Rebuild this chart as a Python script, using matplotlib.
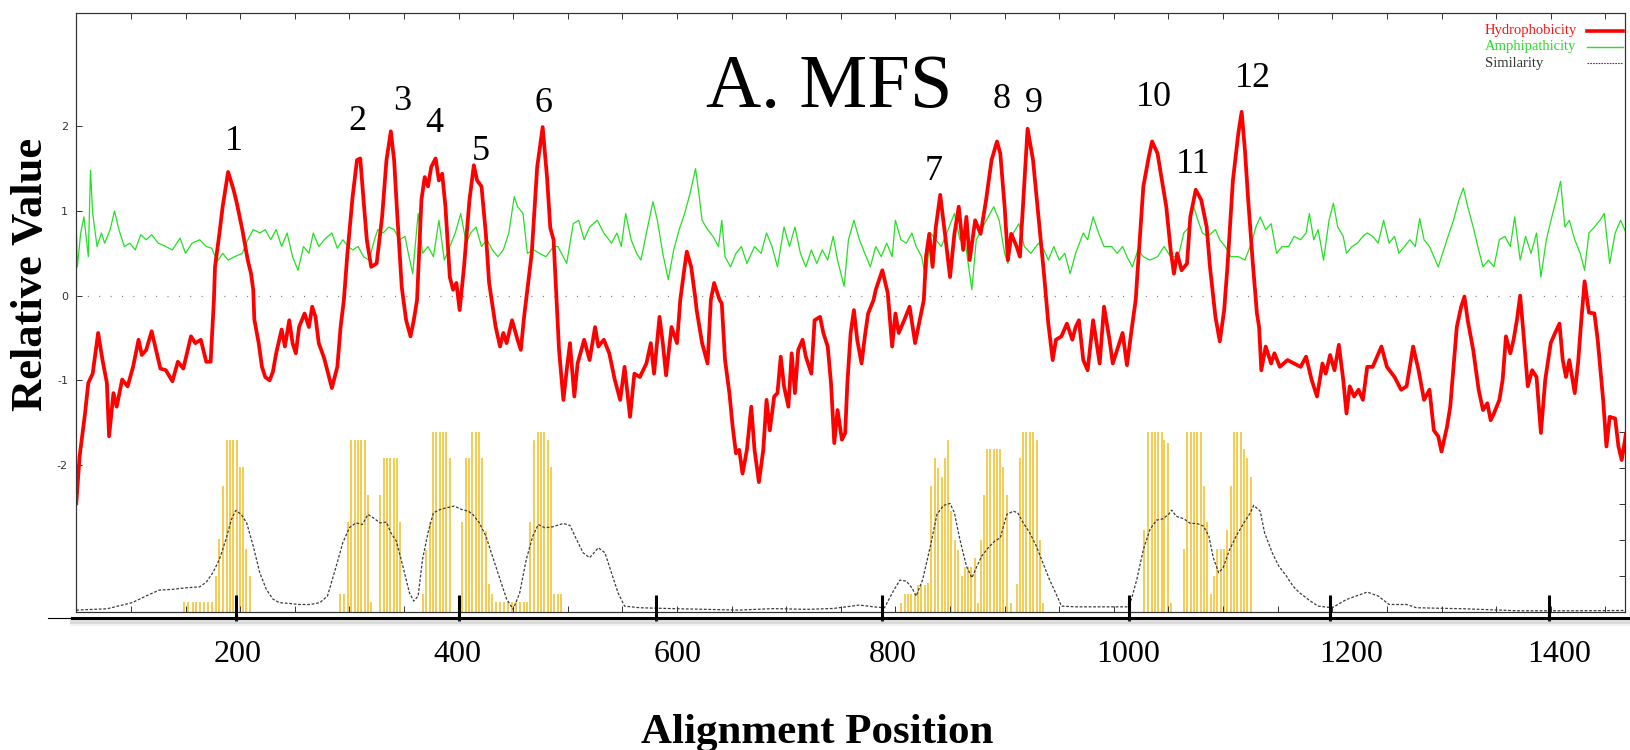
import numpy as np
import matplotlib
matplotlib.use("Agg")
import matplotlib.pyplot as plt
import matplotlib.transforms as mtransforms
from matplotlib.lines import Line2D

# ---- values (alignment position / relative value) ----
hydro_x = [50, 53, 58, 61, 65, 70, 74, 78, 80, 84, 87, 92, 97, 102, 107, 110, 114, 119, 123, 127,
           132, 138, 143, 148, 155, 159, 164, 169, 173, 176, 177, 181, 184, 189, 194, 197, 202, 207, 210, 212,
           213, 217, 220, 223, 227, 230, 233, 238, 241, 245, 248, 251, 254, 259, 263, 266, 269, 272, 277, 284,
           289, 292, 295, 298, 303, 307, 310, 313, 316, 320, 325, 330, 334, 338, 341, 344, 348, 352, 356, 359,
           362, 366, 369, 372, 375, 379, 382, 385, 388, 392, 395, 398, 401, 405, 410, 414, 417, 421, 425, 428,
           434, 438, 441, 444, 449, 454, 457, 460, 467, 472, 477, 481, 484, 487, 492, 496, 499, 502, 506, 509,
           515, 520, 525, 528, 533, 538, 543, 548, 552, 557, 561, 566, 572, 576, 579, 584, 587, 590, 595, 600,
           603, 607, 609, 613, 617, 618, 623, 628, 631, 634, 639, 641, 644, 648, 651, 654, 657, 660, 664, 668,
           671, 675, 679, 682, 685, 689, 692, 695, 698, 702, 705, 708, 711, 715, 718, 723, 726, 731, 734, 738,
           741, 744, 747, 751, 754, 756, 759, 762, 765, 769, 772, 775, 780, 782, 788, 793, 797, 800, 803, 808,
           813, 818, 821, 826, 828, 831, 834, 837, 841, 846, 850, 854, 858, 862, 865, 868, 873, 878, 883, 888,
           893, 896, 900, 903, 906, 911, 914, 918, 921, 926, 931, 936, 940, 944, 947, 952, 957, 962, 965, 968,
           972, 976, 981, 987, 991, 996, 999, 1004, 1008, 1012, 1017, 1020, 1022, 1027, 1032, 1035, 1040, 1043, 1048, 1052,
           1055, 1058, 1062, 1067, 1070, 1075, 1080, 1085, 1088, 1093, 1097, 1101, 1104, 1109, 1114, 1117, 1120, 1123, 1127, 1131,
           1133, 1135, 1139, 1144, 1147, 1152, 1159, 1165, 1171, 1176, 1181, 1186, 1191, 1194, 1198, 1202, 1206, 1210, 1213, 1216,
           1220, 1224, 1228, 1232, 1237, 1241, 1245, 1250, 1257, 1263, 1268, 1271, 1274, 1279, 1284, 1289, 1293, 1297, 1300, 1305,
           1308, 1311, 1314, 1318, 1321, 1324, 1329, 1334, 1338, 1342, 1345, 1348, 1353, 1356, 1359, 1363, 1366, 1369, 1372, 1375,
           1379, 1383, 1387, 1391, 1395, 1400, 1404, 1408, 1411, 1414, 1417, 1422, 1425, 1428, 1431, 1435, 1440, 1443, 1448, 1451,
           1454, 1459, 1462, 1465, 1469, 1470]
hydro_y = [-2.45, -1.90, -1.39, -1.03, -0.92, -0.44, -0.76, -1.03, -1.66, -1.15, -1.31, -0.99, -1.07, -0.84, -0.52, -0.70, -0.64, -0.42, -0.64, -0.86,
           -0.88, -1.01, -0.78, -0.86, -0.48, -0.56, -0.52, -0.78, -0.78, -0.05, 0.34, 0.73, 1.05, 1.46, 1.25, 1.09, 0.78, 0.42, 0.26, 0.07,
           -0.28, -0.56, -0.84, -0.96, -1.00, -0.90, -0.68, -0.40, -0.60, -0.29, -0.56, -0.68, -0.37, -0.21, -0.37, -0.13, -0.25, -0.56, -0.74, -1.09,
           -0.84, -0.37, -0.05, 0.46, 1.17, 1.60, 1.62, 1.13, 0.66, 0.34, 0.38, 0.93, 1.60, 1.94, 1.60, 0.93, 0.10, -0.29, -0.48, -0.29,
           -0.05, 1.13, 1.40, 1.29, 1.52, 1.62, 1.36, 1.44, 1.05, 0.22, 0.07, 0.15, -0.17, 0.34, 1.13, 1.54, 1.36, 1.29, 0.73, 0.15,
           -0.37, -0.60, -0.44, -0.56, -0.29, -0.52, -0.64, -0.25, 0.50, 1.52, 1.99, 1.40, 0.80, 0.66, -0.64, -1.23, -0.88, -0.56, -1.19, -0.80,
           -0.52, -0.76, -0.37, -0.60, -0.52, -0.68, -0.99, -1.23, -0.84, -1.43, -0.92, -0.96, -0.80, -0.56, -0.92, -0.25, -0.56, -0.94, -0.37, -0.56,
           -0.05, 0.34, 0.52, 0.34, -0.05, -0.17, -0.56, -0.80, -0.05, 0.15, -0.05, -0.09, -0.76, -1.15, -1.55, -1.86, -1.82, -2.10, -1.82, -1.31,
           -1.82, -2.20, -1.82, -1.23, -1.59, -1.19, -1.15, -0.72, -1.07, -1.31, -0.68, -1.15, -0.64, -0.52, -0.72, -0.92, -0.29, -0.25, -0.44, -0.60,
           -1.03, -1.74, -1.35, -1.70, -1.62, -1.03, -0.44, -0.17, -0.52, -0.80, -0.48, -0.21, -0.05, 0.07, 0.30, 0.03, -0.60, -0.21, -0.44, -0.29,
           -0.13, -0.56, -0.37, -0.05, 0.46, 0.73, 0.34, 0.81, 1.19, 0.66, 0.22, 0.73, 1.05, 0.54, 0.93, 0.42, 0.89, 0.73, 1.13, 1.60,
           1.82, 1.68, 1.05, 0.42, 0.73, 0.58, 0.46, 1.33, 1.97, 1.60, 0.93, 0.26, -0.33, -0.76, -0.52, -0.48, -0.33, -0.52, -0.37, -0.29,
           -0.76, -0.88, -0.29, -0.80, -0.13, -0.52, -0.80, -0.60, -0.44, -0.82, -0.33, -0.05, 0.34, 1.29, 1.64, 1.82, 1.68, 1.44, 1.05, 0.54,
           0.26, 0.50, 0.30, 0.38, 0.93, 1.25, 1.13, 0.81, 0.34, -0.25, -0.54, -0.17, 0.34, 1.36, 1.92, 2.17, 1.72, 1.13, 0.42, -0.21,
           -0.37, -0.88, -0.60, -0.80, -0.68, -0.84, -0.76, -0.80, -0.84, -0.72, -0.99, -1.19, -0.80, -0.92, -0.70, -0.88, -0.58, -0.99, -1.39, -1.07,
           -1.19, -1.11, -1.23, -0.84, -0.84, -0.72, -0.60, -0.84, -0.96, -1.11, -1.07, -0.84, -0.60, -0.88, -1.23, -1.11, -1.59, -1.66, -1.84, -1.55,
           -1.31, -0.84, -0.37, -0.13, -0.01, -0.29, -0.64, -1.11, -1.35, -1.27, -1.47, -1.39, -1.23, -0.99, -0.48, -0.68, -0.52, -0.29, 0.00, -0.44,
           -1.07, -0.88, -0.96, -1.62, -0.99, -0.56, -0.44, -0.33, -0.76, -0.96, -0.76, -1.15, -0.80, -0.29, 0.17, -0.20, -0.21, -0.52, -1.23, -1.78,
           -1.43, -1.45, -1.78, -1.94, -1.62, -1.98]

amphi_x = [50, 51, 54, 57, 61, 63, 65, 69, 73, 76, 81, 85, 89, 94, 99, 104, 109, 114, 119, 125,
           132, 138, 145, 150, 156, 163, 169, 174, 179, 184, 189, 195, 202, 207, 212, 218, 223, 228, 233, 238,
           243, 248, 253, 258, 263, 267, 272, 277, 284, 289, 294, 299, 303, 308, 313, 318, 323, 326, 331, 336,
           341, 346, 351, 354, 358, 363, 367, 372, 377, 382, 387, 392, 397, 402, 407, 411, 416, 421, 426, 431,
           436, 441, 446, 451, 454, 459, 463, 469, 474, 480, 487, 491, 499, 505, 510, 515, 520, 527, 533, 540,
           545, 549, 553, 558, 563, 567, 572, 578, 582, 587, 592, 597, 602, 607, 612, 617, 620, 623, 628, 633,
           638, 641, 644, 649, 654, 659, 664, 671, 677, 682, 687, 692, 698, 703, 708, 713, 718, 723, 728, 733,
           738, 743, 747, 753, 757, 762, 767, 772, 777, 782, 787, 792, 797, 800, 805, 810, 815, 819, 824, 828,
           832, 837, 842, 847, 854, 859, 864, 870, 874, 880, 885, 890, 895, 900, 903, 908, 913, 918, 924, 931,
           936, 940, 945, 950, 955, 960, 965, 972, 976, 981, 986, 991, 998, 1003, 1008, 1012, 1017, 1022, 1027, 1033,
           1040, 1046, 1052, 1059, 1064, 1069, 1072, 1077, 1081, 1086, 1093, 1097, 1102, 1107, 1114, 1120, 1126, 1130, 1134, 1139,
           1144, 1149, 1154, 1160, 1165, 1171, 1176, 1179, 1183, 1187, 1192, 1197, 1201, 1205, 1210, 1213, 1218, 1223, 1228, 1232,
           1237, 1242, 1247, 1252, 1257, 1261, 1266, 1271, 1276, 1280, 1284, 1289, 1293, 1297, 1302, 1306, 1311, 1316, 1320, 1324,
           1329, 1334, 1338, 1343, 1348, 1353, 1358, 1363, 1367, 1372, 1377, 1382, 1387, 1391, 1396, 1401, 1405, 1409, 1413, 1417,
           1422, 1427, 1431, 1435, 1440, 1445, 1449, 1454, 1459, 1464, 1469]
amphi_y = [0.81, 0.34, 0.74, 0.93, 0.46, 1.48, 0.97, 0.58, 0.74, 0.62, 0.78, 1.00, 0.78, 0.58, 0.62, 0.54, 0.72, 0.66, 0.72, 0.62,
           0.58, 0.54, 0.68, 0.50, 0.62, 0.66, 0.58, 0.56, 0.40, 0.50, 0.42, 0.46, 0.50, 0.66, 0.78, 0.74, 0.78, 0.66, 0.78, 0.58,
           0.74, 0.46, 0.30, 0.58, 0.50, 0.74, 0.58, 0.66, 0.74, 0.56, 0.66, 0.58, 0.54, 0.58, 0.46, 0.42, 0.66, 0.78, 0.74, 0.81,
           0.78, 0.66, 0.70, 0.50, 0.26, 0.97, 0.50, 0.58, 0.46, 0.89, 0.42, 0.58, 0.74, 0.97, 0.62, 0.74, 0.81, 0.58, 0.66, 0.54,
           0.46, 0.54, 0.74, 1.17, 1.05, 0.97, 0.50, 0.54, 0.50, 0.46, 0.58, 0.58, 0.38, 0.85, 0.89, 0.66, 0.81, 0.89, 0.74, 0.62,
           0.74, 0.58, 0.97, 0.66, 0.50, 0.42, 0.74, 1.11, 0.89, 0.50, 0.19, 0.54, 0.78, 0.97, 1.21, 1.50, 1.21, 0.89, 0.78, 0.70,
           0.58, 0.89, 0.46, 0.34, 0.50, 0.58, 0.38, 0.58, 0.50, 0.74, 0.58, 0.34, 0.81, 0.58, 0.81, 0.50, 0.34, 0.54, 0.38, 0.54,
           0.42, 0.70, 0.42, 0.11, 0.66, 0.89, 0.66, 0.50, 0.34, 0.58, 0.46, 0.62, 0.46, 0.89, 0.66, 0.62, 0.74, 0.58, 0.46, 0.19,
           0.74, 0.66, 0.58, 0.74, 0.97, 0.66, 0.62, 0.07, 0.66, 0.81, 0.93, 1.05, 0.89, 0.50, 0.38, 0.74, 0.85, 0.58, 0.50, 0.62,
           0.54, 0.42, 0.58, 0.42, 0.50, 0.26, 0.50, 0.74, 0.66, 0.93, 0.74, 0.58, 0.58, 0.50, 0.58, 0.46, 0.34, 0.54, 0.46, 0.42,
           0.46, 0.58, 0.46, 0.46, 0.74, 0.81, 1.09, 0.89, 0.74, 0.70, 0.78, 0.66, 0.58, 0.46, 0.46, 0.42, 0.62, 0.81, 0.93, 0.78,
           0.85, 0.50, 0.58, 0.58, 0.70, 0.66, 0.74, 0.97, 0.66, 0.78, 0.42, 0.89, 1.09, 0.81, 0.70, 0.50, 0.58, 0.62, 0.70, 0.74,
           0.70, 0.62, 0.89, 0.62, 0.70, 0.50, 0.58, 0.66, 0.58, 0.91, 0.66, 0.58, 0.46, 0.34, 0.54, 0.70, 0.89, 1.13, 1.27, 1.05,
           0.81, 0.54, 0.34, 0.42, 0.34, 0.66, 0.70, 0.58, 0.93, 0.42, 0.70, 0.50, 0.74, 0.22, 0.66, 0.93, 1.13, 1.35, 0.81, 0.89,
           0.66, 0.50, 0.30, 0.74, 0.81, 0.89, 0.97, 0.38, 0.74, 0.89, 0.74]

# similarity (right-hand scale, 0..1)
sim_x = [50, 78, 101, 108, 117, 126, 138, 151, 163, 169, 175, 181, 187, 192, 196, 201, 206, 212, 218, 224,
         230, 236, 245, 254, 264, 273, 280, 288, 294, 300, 306, 312, 317, 322, 328, 334, 338, 343, 349, 355,
         359, 363, 367, 372, 377, 383, 389, 396, 403, 409, 413, 419, 425, 432, 438, 444, 450, 456, 462, 468,
         473, 479, 486, 496, 502, 508, 514, 520, 528, 534, 540, 546, 552, 566, 596, 627, 657, 688, 719, 743,
         755, 767, 780, 790, 798, 804, 810, 815, 819, 825, 832, 838, 844, 850, 854, 859, 865, 870, 874, 879,
         885, 891, 896, 902, 908, 912, 917, 923, 929, 935, 941, 948, 952, 965, 985, 1012, 1016, 1021, 1027, 1033,
         1039, 1045, 1050, 1053, 1057, 1064, 1070, 1076, 1082, 1087, 1091, 1096, 1100, 1106, 1112, 1119, 1125, 1128, 1134, 1138,
         1145, 1151, 1158, 1164, 1170, 1180, 1187, 1200, 1213, 1226, 1232, 1242, 1252, 1268, 1277, 1322, 1370, 1419, 1470]
sim_y = [0.009, 0.016, 0.05, 0.07, 0.096, 0.12, 0.124, 0.133, 0.138, 0.164, 0.216, 0.29, 0.401, 0.512, 0.562, 0.54, 0.493, 0.364, 0.216, 0.124,
         0.07, 0.05, 0.046, 0.04, 0.04, 0.05, 0.087, 0.253, 0.383, 0.466, 0.493, 0.484, 0.54, 0.521, 0.493, 0.497, 0.438, 0.392, 0.253, 0.105,
         0.059, 0.087, 0.29, 0.438, 0.549, 0.567, 0.577, 0.586, 0.567, 0.558, 0.54, 0.493, 0.42, 0.29, 0.179, 0.07, 0.013, 0.105, 0.29, 0.42,
         0.484, 0.466, 0.471, 0.49, 0.479, 0.401, 0.327, 0.30, 0.355, 0.327, 0.216, 0.105, 0.031, 0.022, 0.017, 0.013, 0.009, 0.017, 0.013, 0.018,
         0.027, 0.037, 0.027, 0.022, 0.114, 0.175, 0.17, 0.133, 0.087, 0.179, 0.364, 0.54, 0.59, 0.601, 0.549, 0.401, 0.253, 0.188, 0.244, 0.309,
         0.355, 0.392, 0.41, 0.54, 0.558, 0.549, 0.493, 0.438, 0.364, 0.272, 0.179, 0.087, 0.031, 0.027, 0.027, 0.027, 0.068, 0.179, 0.345, 0.456,
         0.508, 0.516, 0.54, 0.564, 0.53, 0.516, 0.49, 0.49, 0.475, 0.42, 0.30, 0.216, 0.244, 0.345, 0.42, 0.493, 0.549, 0.59, 0.558, 0.438,
         0.327, 0.253, 0.198, 0.142, 0.105, 0.059, 0.031, 0.022, 0.068, 0.096, 0.109, 0.087, 0.04, 0.04, 0.022, 0.016, 0.005, 0.005, 0.007]

bar_x = [149, 152.7, 156.4, 159.7, 163.4, 167, 170.4, 174.1, 177.7, 181.1, 184.4, 187.8, 190.9, 193.9, 197, 200, 202.8, 205.5, 208.6,
         291.9, 295, 298.7, 301.7, 304.8, 307.8, 310.9, 313.9, 316.7, 319.4,
         328.3, 331.3, 334.4, 337.4, 340.5, 343.5, 346.6,
         367.4, 370.4, 373.5, 376.5, 379.6, 382.6, 385.7, 388.7, 391.8,
         403.4, 406.4, 409.5, 412.6, 415.6, 418.7, 421.7, 424.8, 427.8, 430.9, 433.9, 437.6, 441.3, 444.9, 448.6, 452.2, 455.9, 459.6, 462.9,
         465.7, 469.3, 472.4, 475.5, 478.5, 481.6, 484.6, 487.7, 490.7, 494,
         805.5, 808.6, 811.6, 814.7, 817.7, 820.8, 823.8, 826.9, 829.9, 833, 836, 839.1, 842.2, 845.2, 848.3, 851.3, 854.4, 857.4, 860.5,
         863.5, 866.6, 869.6, 872.7, 875.8,
         877.9, 880.9, 884, 887, 890.1, 893.2, 895.6, 898.7, 901.7, 905.4,
         910.9, 913.9, 917, 920, 923.1, 926.1, 929.2, 932.2, 935.3,
         1027.5, 1031.5, 1034.5, 1037.6, 1040.6, 1043.7, 1046.1, 1049.2, 1052,
         1064.2, 1067.2, 1070.3, 1073.3, 1076.4, 1079.4, 1082.5, 1085.5, 1088.6, 1091.6, 1094.7, 1097.8, 1100.8, 1103.9, 1106.9,
         1110, 1113, 1116.1, 1119.1, 1122.2, 1125.2]
bar_h = [0.053, 0.053, 0.053, 0.053, 0.053, 0.053, 0.053, 0.053, 0.198, 0.401, 0.70, 0.955, 0.955, 0.955, 0.955, 0.804, 0.804, 0.349, 0.198,
         0.10, 0.10, 0.497, 0.955, 0.955, 0.955, 0.955, 0.955, 0.65, 0.053,
         0.65, 0.855, 0.855, 0.855, 0.855, 0.855, 0.50,
         0.10, 0.345, 0.497, 1.0, 1.0, 1.0, 1.0, 1.0, 0.855,
         0.50, 0.855, 0.855, 1.0, 1.0, 1.0, 0.855, 0.447, 0.152, 0.10, 0.053, 0.053, 0.053, 0.053, 0.053, 0.053, 0.053, 0.053, 0.053,
         0.50, 0.955, 1.0, 1.0, 1.0, 0.955, 0.804, 0.10, 0.10, 0.10,
         0.05, 0.10, 0.10, 0.10, 0.10, 0.15, 0.15, 0.15, 0.16, 0.70, 0.855, 0.80, 0.75, 0.855, 0.955, 0.56, 0.40, 0.345, 0.20,
         0.25, 0.25, 0.25, 0.30, 0.05,
         0.40, 0.65, 0.904, 0.904, 0.904, 0.904, 0.904, 0.804, 0.65, 0.05,
         0.152, 0.855, 1.0, 1.0, 1.0, 1.0, 0.955, 0.40, 0.05,
         0.453, 1.0, 1.0, 1.0, 1.0, 1.0, 0.955, 0.935, 0.05,
         0.35, 1.0, 1.0, 1.0, 1.0, 1.0, 0.70, 0.497, 0.10, 0.20, 0.35, 0.35, 0.35, 0.453, 0.70,
         1.0, 1.0, 1.0, 0.904, 0.855, 0.75]

# helix numbers written over the peaks
tm_labels = ['1', '2', '3', '4', '5', '6', '7', '8', '9', '10', '11', '12']
tm_label_x = [194, 307, 348, 378, 420, 478, 835, 897, 927, 1037, 1073, 1127]
tm_label_y = [1.82, 2.05, 2.29, 2.03, 1.70, 2.27, 1.46, 2.31, 2.27, 2.34, 1.55, 2.56]

# hand-drawn position axis pasted under the plot
pos_labels = ['200', '400', '600', '800', '1000', '1200', '1400']
pos_tick_x = [196, 400, 581, 788, 1014, 1198, 1398]
pos_label_x = [198, 399, 601, 798, 1013, 1217, 1408]

W, H = 1630, 750
SERIF = ['Liberation Serif', 'DejaVu Serif']

fig = plt.figure(figsize=(W / 100, H / 100), dpi=100)
ax = fig.add_axes([76.3 / W, 1 - 611.7 / H, (1625 - 76.3) / W, 599 / H])
ax_sim = ax.twinx()
ax.set_zorder(ax_sim.get_zorder() + 1)
ax.patch.set_visible(False)

ax.set_xlim(50, 1468)
ax.set_ylim(-3.73, 3.34)
ax_sim.set_ylim(0, 3.325)

# similarity bars + curve (lower layer)
ax_sim.vlines(bar_x, 0, bar_h, color='#f5c232', lw=1.2)
ax_sim.plot(sim_x, sim_y, color='#3c3c3c', lw=0.9, dashes=(2.2, 1.4))

# zero line, amphipathicity, hydrophobicity
ax.axhline(0, color='#777777', lw=0.9, ls=(0, (0.8, 8.3)))
ax.plot(amphi_x, amphi_y, color='#22e022', lw=0.9)
ax.plot(hydro_x, hydro_y, color='#ff0000', lw=2.7)

for s, x, y in zip(tm_labels, tm_label_x, tm_label_y):
    ax.text(x, y, s, fontsize=26, family=SERIF, ha='center', va='center')

# frame and small gnuplot ticks
for a in (ax, ax_sim):
    for sp in a.spines.values():
        sp.set_color('#333333')
        sp.set_linewidth(0.8)
ax.set_yticks([-2, -1, 0, 1, 2])
ax.set_yticklabels(['-2', '-1', '0', '1', '2'])
ax.tick_params(axis='y', direction='in', length=4, width=0.7, colors='#333333',
               labelsize=8, pad=6, right=False)
ax.set_xticks(np.arange(100, 1451, 50))
ax.tick_params(axis='x', direction='in', length=4, width=0.7, colors='#333333',
               top=True, bottom=True, labelbottom=False)
ax_sim.set_yticks([0.2, 0.4, 0.6, 0.8, 1.0])
ax_sim.tick_params(axis='y', direction='in', length=4, width=0.7, colors='#333333',
                   labelright=False)

# pasted position axis
yline = 1 - 618.3 / H
fig.add_artist(Line2D([48 / W, 72 / W], [yline, yline], color='black', lw=0.8))
fig.add_artist(Line2D([72 / W, 1.0], [yline - 3 / H, yline - 3 / H], color='#888888', lw=3.5, alpha=0.25))
fig.add_artist(Line2D([72 / W, 1.0], [yline - 6 / H, yline - 6 / H], color='#aaaaaa', lw=3, alpha=0.15))
fig.add_artist(Line2D([72 / W, 1.0], [yline, yline], color='black', lw=2.2))
trans = mtransforms.blended_transform_factory(ax.transData, fig.transFigure)
ax.vlines(pos_tick_x, 1 - 621 / H, 1 - 595 / H, transform=trans, clip_on=False,
          color='black', lw=2.2, zorder=10)
for s, x in zip(pos_labels, pos_label_x):
    ax.text(x, 1 - 654 / H, s, transform=trans, fontsize=23, family=SERIF,
            ha='center', va='center')

# titles / axis names
fig.text(829 / W, 1 - 106.7 / H, 'A. MFS', fontsize=55, family=SERIF,
         ha='center', va='baseline')
fig.text(817 / W, 1 - 733 / H, 'Alignment Position', fontsize=31, family=SERIF,
         fontweight='bold', ha='center', va='center')
fig.text(31 / W, 1 - 274 / H, 'Relative Value', fontsize=32, family=SERIF,
         fontweight='bold', rotation=90, ha='center', va='center')

# legend (gnuplot style)
leg = [('Hydrophobicity', '#ff1010', 30.7, dict(color='#ff0000', lw=2.6)),
       ('Amphipathicity', '#22dd22', 46.7, dict(color='#22e022', lw=1.0)),
       ('Similarity', '#333333', 63.0, dict(color='#444444', lw=0.8, ls=(0, (1.5, 1.0))))]
for name, col, py, style in leg:
    fig.text(1485 / W, 1 - py / H, name, color=col, fontsize=10.5, family=SERIF,
             ha='left', va='center')
    fig.add_artist(Line2D([1587 / W, 1623 / W], [1 - py / H, 1 - py / H], **style))

fig.savefig('out.png', dpi=100)
